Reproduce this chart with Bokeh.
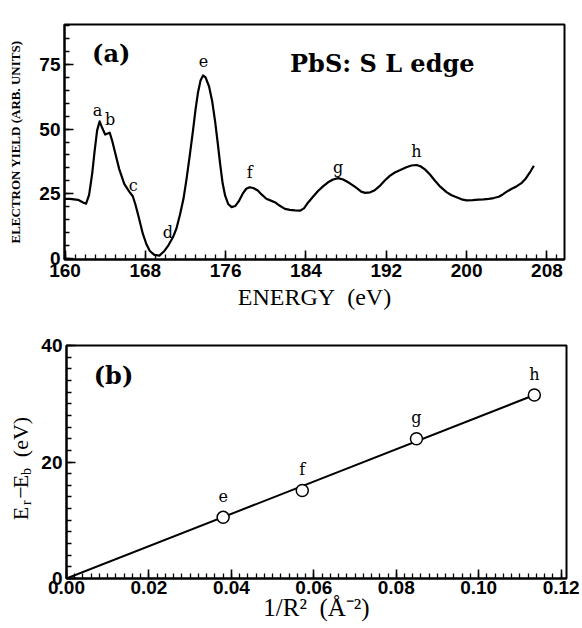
import math
from bokeh.plotting import figure
from bokeh.layouts import column, row
from bokeh.models import FixedTicker, Range1d, PrintfTickFormatter
from bokeh.core.properties import value
from bokeh.embed import file_html
from bokeh.resources import INLINE

# ---------------- data: panel (a) ----------------
energy = [159.95, 160.5, 161.3, 161.8, 162.1, 162.4, 162.7, 162.95, 163.2, 163.45, 163.7,
          164.0, 164.25, 164.45, 164.7, 164.95, 165.4, 165.9, 166.4, 166.75, 167.0, 167.3,
          167.75, 168.1, 168.45, 168.9, 169.4, 169.9, 170.3, 170.75, 171.1, 171.45, 171.8,
          172.1, 172.45, 172.75, 173.0, 173.25, 173.5, 173.75, 174.0, 174.35, 174.65, 174.95,
          175.2, 175.45, 175.7, 175.95, 176.25, 176.6, 176.95, 177.3, 177.7, 178.05, 178.4,
          178.8, 179.2, 179.6, 180.05, 180.5, 180.9, 181.4, 181.9, 182.4, 182.9, 183.4,
          183.8, 184.2, 184.7, 185.2, 185.7, 186.2, 186.7, 187.2, 187.7, 188.2, 188.6, 189.0,
          189.5, 189.9, 190.4, 190.85, 191.35, 191.85, 192.35, 192.85, 193.4, 194.0, 194.5,
          195.0, 195.4, 195.85, 196.35, 196.85, 197.4, 198.0, 198.5, 199.0, 199.5, 200.0,
          200.6, 201.2, 201.7, 202.2, 202.7, 203.2, 203.6, 204.0, 204.5, 205.0, 205.5,
          205.9, 206.3, 206.7]
yield_ = [23.0, 23.0, 22.6, 21.6, 21.1, 24.5, 32.5, 41.5, 49.5, 53.0, 50.5,
          47.9, 48.3, 48.6, 45.5, 41.5, 34.5, 28.8, 25.8, 24.0, 21.0, 16.5,
          9.5, 5.5, 2.8, 1.3, 1.0, 2.8, 5.0, 8.1, 11.5, 16.8, 23.0,
          30.5, 40.5, 49.5, 57.5, 64.3, 68.8, 70.8, 70.0, 66.5, 61.0, 53.0,
          45.0, 36.5, 29.0, 24.2, 21.0, 19.8, 20.2, 22.0, 25.0, 26.9, 27.5,
          27.1, 26.2, 24.6, 23.0, 22.3, 21.7, 20.3, 19.1, 18.7, 18.5, 18.4,
          19.3, 21.5, 23.8, 26.0, 27.8, 29.4, 30.5, 31.0, 30.5, 29.4, 28.4, 27.3,
          25.8, 25.3, 25.5, 26.3, 28.0, 30.1, 31.9, 33.2, 34.2, 35.2, 35.9,
          36.1, 35.6, 34.4, 32.4, 30.0, 27.6, 25.6, 24.4, 23.6, 22.8, 22.4,
          22.5, 22.7, 22.8, 23.0, 23.3, 23.8, 24.7, 25.8, 26.9, 27.9, 29.2,
          30.9, 33.2, 35.8]

peak_labels = ["a", "b", "c", "d", "e", "f", "g", "h"]
peak_label_x = [163.25, 164.5, 166.8, 170.25, 173.8, 178.4, 187.2, 195.0]
peak_label_y = [57.2, 53.7, 28.3, 9.9, 76.2, 33.0, 35.3, 41.2]

a_xticks = [160, 168, 176, 184, 192, 200, 208]
a_yticks = [0, 25, 50, 75]

# ---------------- data: panel (b) ----------------
inv_r2 = [0.038, 0.0572, 0.0849, 0.1135]
delta_e = [10.5, 15.1, 24.0, 31.5]
point_labels = ["e", "f", "g", "h"]
fit_slope = 277.5
fit_x = [0.0, 0.1135]

b_xticks = [0.0, 0.02, 0.04, 0.06, 0.08, 0.10, 0.12]
b_yticks = [0, 20, 40]

# ---------------- styling helpers ----------------
TICK_FONT = "Liberation Sans"
SERIF = "Liberation Serif"
BOLD_SERIF = "DejaVu Serif"
NB = "\u00a0"


def style(p):
    p.outline_line_color = "black"
    p.outline_line_width = 2
    p.outline_line_alpha = 1
    p.xgrid.visible = False
    p.ygrid.visible = False
    p.background_fill_color = "white"
    p.border_fill_color = "white"
    for ax in p.axis:
        ax.axis_line_color = "black"
        ax.axis_line_width = 2
        ax.major_tick_in = 9
        ax.major_tick_out = 0
        ax.minor_tick_in = 5
        ax.minor_tick_out = 0
        ax.major_tick_line_color = "black"
        ax.minor_tick_line_color = "black"
        ax.major_tick_line_width = 1.6
        ax.minor_tick_line_width = 1.3
        ax.major_label_text_font = TICK_FONT
        ax.major_label_text_font_style = "bold"
        ax.major_label_text_font_size = "19px"
        ax.major_label_text_color = "black"
        ax.axis_label_text_font = SERIF
        ax.axis_label_text_font_style = "normal"
        ax.axis_label_text_color = "black"


# ---------------- panel (a) ----------------
p1 = figure(title=None, frame_width=500, frame_height=235,
            x_range=Range1d(159.95, 209.75), y_range=Range1d(-0.5, 90.5),
            output_backend="svg", toolbar_location=None,
            min_border_left=64, min_border_right=18, min_border_top=24, min_border_bottom=71)
style(p1)
p1.xaxis.ticker = FixedTicker(ticks=a_xticks, minor_ticks=list(range(160, 210)))
p1.yaxis.ticker = FixedTicker(ticks=a_yticks, minor_ticks=list(range(0, 91, 5)))
p1.xaxis.major_label_standoff = 4
p1.yaxis.major_label_standoff = 4
p1.xaxis.axis_label = "ENERGY" + NB + " (eV)"
p1.xaxis.axis_label_text_font_size = "24px"
p1.xaxis.axis_label_standoff = 4
p1.yaxis.axis_label = "ELECTRON YIELD (ARB. UNITS)"
p1.yaxis.axis_label_text_font_size = "13px"
p1.yaxis.axis_label_text_font_style = "bold"
p1.yaxis.axis_label_standoff = 13

p1.line(energy, yield_, line_color="black", line_width=2.2, line_join="round")
p1.text(x=peak_label_x, y=peak_label_y, text=peak_labels,
        text_font=value(BOLD_SERIF), text_font_size="16px", text_color="black",
        text_align="center", text_baseline="middle")
p1.text(x=[164.6], y=[79.2], text=["(a)"], text_font=value(BOLD_SERIF),
        text_font_style="bold", text_font_size="24px", text_color="black",
        text_align="center", text_baseline="middle")
p1.text(x=[191.6], y=[75.3], text=["PbS: S L edge"], text_font=value(BOLD_SERIF),
        text_font_style="bold", text_font_size="24px", text_color="black",
        text_align="center", text_baseline="middle")

# ---------------- panel (b) ----------------
LABEL_W = 38
p2 = figure(title=None, frame_width=500, frame_height=233,
            x_range=Range1d(0, 0.1213), y_range=Range1d(0, 40),
            output_backend="svg", toolbar_location=None,
            min_border_left=64 - LABEL_W, min_border_right=18, min_border_top=15,
            min_border_bottom=50)
style(p2)
p2.xaxis.ticker = FixedTicker(ticks=b_xticks, minor_ticks=[i * 0.002 for i in range(61)])
p2.yaxis.ticker = FixedTicker(ticks=b_yticks, minor_ticks=list(range(0, 41, 2)))
p2.xaxis.formatter = PrintfTickFormatter(format="%.2f")
p2.xaxis.major_label_standoff = 2
p2.yaxis.major_label_standoff = 4
p2.xaxis.axis_label = "1/R\u00b2" + NB + " (\u00c5\u207b\u00b2)"
p2.xaxis.axis_label_text_font_size = "25px"
p2.xaxis.axis_label_standoff = -3

fit_y = [fit_slope * xv for xv in fit_x]
p2.line(fit_x, fit_y, line_color="black", line_width=2)
p2.scatter(inv_r2, delta_e, marker="circle", size=12, fill_color="white",
           line_color="black", line_width=1.5)
p2.text(x=inv_r2, y=delta_e, text=point_labels, y_offset=-21,
        text_font=value(BOLD_SERIF), text_font_size="16px", text_color="black",
        text_align="center", text_baseline="middle")
p2.text(x=[0.0114], y=[34.8], text=["(b)"], text_font=value(BOLD_SERIF),
        text_font_style="bold", text_font_size="24px", text_color="black",
        text_align="center", text_baseline="middle")

# narrow side panel holding the rotated y title E_r - E_b (eV); its data units are pixels
p2_h = 15 + 233 + 50
side = figure(title=None, width=LABEL_W, height=p2_h, x_range=Range1d(0, LABEL_W),
              y_range=Range1d(0, p2_h), x_axis_type=None, y_axis_type=None,
              output_backend="svg", toolbar_location=None, min_border=0)
side.xgrid.visible = False
side.ygrid.visible = False
side.outline_line_color = None
side.background_fill_color = "white"
side.border_fill_color = "white"

big_txt = ["E", "\u2212", "E", "(eV)"]
big_x = [20, 20, 20, 20]
big_y = [83, 110, 124, 181]
sub_txt = ["r", "b"]
sub_x = [26, 26]
sub_y = [97, 137]
side.text(x=big_x, y=big_y, text=big_txt, angle=math.pi / 2,
          text_font=value(SERIF), text_font_size="22px", text_color="black",
          text_align="center", text_baseline="middle")
side.text(x=sub_x, y=sub_y, text=sub_txt, angle=math.pi / 2,
          text_font=value(SERIF), text_font_size="14px", text_color="black",
          text_align="center", text_baseline="middle")

layout = column(p1, row(side, p2))
open("out.html", "w").write(file_html(layout, INLINE))
